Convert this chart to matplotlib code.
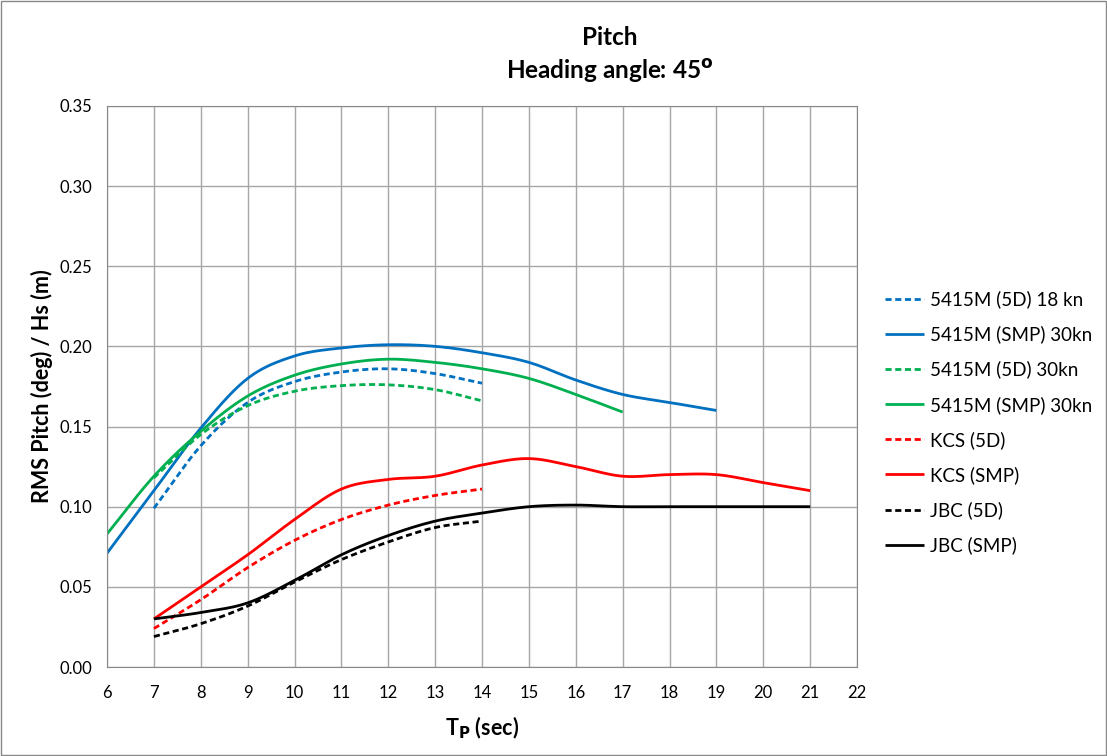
import numpy as np
import matplotlib
matplotlib.use("Agg")
import matplotlib.pyplot as plt
from matplotlib.patches import Rectangle

plt.rcParams['font.family'] = ['Lato', 'DejaVu Sans']

# wave period (s)
tp_6_19 = list(range(6, 20))
tp_6_17 = list(range(6, 18))
tp_7_14 = list(range(7, 15))
tp_7_21 = list(range(7, 22))

m5415_5d_18 = [0.099, 0.138, 0.165, 0.178, 0.184, 0.186, 0.183, 0.177]
m5415_smp_30 = [0.071, 0.110, 0.149, 0.180, 0.194, 0.199, 0.201, 0.200,
                0.196, 0.190, 0.179, 0.170, 0.165, 0.160]
m5415_5d_30 = [0.118, 0.145, 0.163, 0.172, 0.1755, 0.176, 0.173, 0.166]
m5415_smp_30b = [0.083, 0.119, 0.147, 0.169, 0.182, 0.189, 0.192, 0.190,
                 0.186, 0.180, 0.170, 0.159]
kcs_5d = [0.024, 0.042, 0.062, 0.079, 0.092, 0.101, 0.107, 0.111]
kcs_smp = [0.030, 0.050, 0.070, 0.092, 0.111, 0.117, 0.119, 0.126,
           0.130, 0.125, 0.119, 0.120, 0.120, 0.115, 0.110]
jbc_5d = [0.019, 0.027, 0.038, 0.053, 0.067, 0.078, 0.087, 0.091]
jbc_smp = [0.030, 0.034, 0.040, 0.054, 0.070, 0.082, 0.091, 0.096,
           0.100, 0.101, 0.100, 0.100, 0.100, 0.100, 0.100]

series = [
    ("5415M (5D) 18 kn", tp_7_14, m5415_5d_18, '#0070C0', 'dash'),
    ("5415M (SMP) 30kn", tp_6_19, m5415_smp_30, '#0070C0', 'solid'),
    ("5415M (5D) 30kn", tp_7_14, m5415_5d_30, '#00B050', 'dash'),
    ("5415M (SMP) 30kn", tp_6_17, m5415_smp_30b, '#00B050', 'solid'),
    ("KCS (5D)", tp_7_14, kcs_5d, '#FF0000', 'dash'),
    ("KCS (SMP)", tp_7_21, kcs_smp, '#FF0000', 'solid'),
    ("JBC (5D)", tp_7_14, jbc_5d, '#000000', 'dash'),
    ("JBC (SMP)", tp_7_21, jbc_smp, '#000000', 'solid'),
]


def smooth(x, y, n=20):
    # Catmull-Rom curve through the points, like Excel's smoothed line
    x = np.asarray(x, float)
    y = np.asarray(y, float)
    px = np.concatenate([[2 * x[0] - x[1]], x, [2 * x[-1] - x[-2]]])
    py = np.concatenate([[2 * y[0] - y[1]], y, [2 * y[-1] - y[-2]]])
    t = np.linspace(0, 1, n, endpoint=False)
    xs, ys = [], []
    for i in range(1, len(px) - 2):
        for p, out in ((px, xs), (py, ys)):
            p0, p1, p2, p3 = p[i - 1], p[i], p[i + 1], p[i + 2]
            out.extend(0.5 * (2 * p1 + (-p0 + p2) * t
                              + (2 * p0 - 5 * p1 + 4 * p2 - p3) * t ** 2
                              + (-p0 + 3 * p1 - 3 * p2 + p3) * t ** 3))
    xs.append(x[-1])
    ys.append(y[-1])
    return xs, ys


fig = plt.figure(figsize=(11.07, 7.56), dpi=100)
ax = fig.add_axes([0.0967, 0.1177, 0.6775, 0.7423])

for label, x, y, color, style in series:
    sx, sy = smooth(x, y)
    line, = ax.plot(sx, sy, color=color, lw=2.0, label=label,
                    solid_capstyle='butt', dash_capstyle='butt')
    if style == 'dash':
        line.set_dashes((2.2, 1.3))

ax.set_xlim(6, 22)
ax.set_ylim(0, 0.35)
ax.set_xticks(range(6, 23))
ax.set_yticks(np.arange(0, 0.351, 0.05))
ax.set_yticklabels([f"{v:.2f}" for v in np.arange(0, 0.351, 0.05)])
ax.tick_params(labelsize=12, length=0)
ax.tick_params(axis='x', pad=13)
ax.tick_params(axis='y', pad=11)
ax.grid(True, color='#a6a6a6', lw=1)
ax.set_axisbelow(True)
for s in ax.spines.values():
    s.set_color('#888888')

ax.set_xlabel(r"T$_\mathbf{P}$ (sec)", fontsize=15.5, fontweight='bold', labelpad=10)
ax.set_ylabel("RMS Pitch (deg) / Hs (m)", fontsize=15.5, fontweight='bold', labelpad=4)

fig.text(0.551, 0.951, "Pitch", ha='center', va='center', fontsize=17.5, fontweight='bold')
fig.text(0.551, 0.906, r"Heading angle: 45$^\mathbf{o}$", ha='center', va='center',
         fontsize=17.5, fontweight='bold')

ax.legend(loc='center left', bbox_to_anchor=(1.037, 0.436), frameon=False, fontsize=13.5,
          handlelength=2.1, labelspacing=0.92, handletextpad=0.3,
          borderpad=0, borderaxespad=0)

fig.add_artist(Rectangle((0.001, 0.001), 0.998, 0.998, transform=fig.transFigure,
                         fill=False, edgecolor='#888888', lw=1))

fig.savefig("out.png", dpi=100)
